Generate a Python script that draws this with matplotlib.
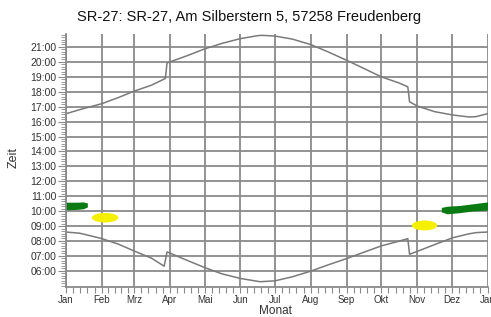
import matplotlib
matplotlib.use("Agg")
import matplotlib.pyplot as plt
from matplotlib.patches import Ellipse
from matplotlib.ticker import FixedLocator, MultipleLocator, FuncFormatter

plt.rcParams["font.family"] = ["Liberation Sans", "DejaVu Sans"]

# data (day of year, time in hours)
title = "SR-27: SR-27, Am Silberstern 5, 57258 Freudenberg"
month_labels = ["Jan", "Feb", "Mrz", "Apr", "Mai", "Jun", "Jul", "Aug", "Sep", "Okt", "Nov", "Dez", "Jan"]
month_starts = [0, 31, 59, 90, 120, 151, 181, 212, 243, 273, 304, 334, 365]

sunset_day = [0, 15, 31, 45, 59, 74, 86, 87.5, 105, 120, 135, 151, 166, 170, 181, 196, 212,
              227, 243, 258, 273, 288, 296, 297.5, 304, 319, 335, 349, 355, 365]
sunset_time = [16.53, 16.87, 17.2, 17.6, 18.04, 18.44, 18.89, 19.93, 20.42, 20.87, 21.24, 21.56,
               21.76, 21.78, 21.73, 21.53, 21.16, 20.67, 20.11, 19.56, 19.0, 18.6, 18.33, 17.33,
               17.05, 16.67, 16.44, 16.31, 16.33, 16.53]

sunrise_day = [0, 12, 31, 45, 59, 74, 85, 87.5, 105, 120, 135, 151, 168, 181, 196, 212,
               227, 243, 258, 273, 288, 296, 297.5, 304, 319, 335, 349, 355, 365]
sunrise_time = [8.6, 8.52, 8.16, 7.8, 7.33, 6.85, 6.31, 7.27, 6.7, 6.22, 5.8, 5.49, 5.27, 5.33,
                5.6, 5.98, 6.4, 6.82, 7.25, 7.67, 7.98, 8.16, 7.11, 7.3, 7.75, 8.22, 8.48, 8.56, 8.6]

green_left_day = [0, 5, 10, 15, 18.5]
green_left_lo = [10.1, 10.1, 10.12, 10.16, 10.28]
green_left_hi = [10.6, 10.6, 10.6, 10.62, 10.55]

green_right_day = [325, 330, 341, 353, 365]
green_right_lo = [9.95, 9.82, 9.9, 10.02, 10.07]
green_right_hi = [10.25, 10.33, 10.38, 10.5, 10.62]

yellow_day = [33.8, 310.5]
yellow_time = [9.56, 9.04]
yellow_w = [23, 22]
yellow_h = [0.64, 0.66]

fig = plt.figure(figsize=(4.91, 3.17), dpi=100)
ax = fig.add_axes([66 / 491, 1 - 286.5 / 317, 421.5 / 491, 252.5 / 317])

grid_c = "#8a8a8a"
ax.set_xlim(0, 365)
ax.set_ylim(4.95, 21.87)

ax.xaxis.set_major_locator(FixedLocator(month_starts))
minor_x = []
for a, b in zip(month_starts[:-1], month_starts[1:]):
    minor_x += [a + (b - a) * k / 5 for k in range(1, 5)]
ax.xaxis.set_minor_locator(FixedLocator(minor_x))
ax.set_xticklabels(month_labels)

ax.yaxis.set_major_locator(FixedLocator(list(range(6, 22))))
ax.yaxis.set_minor_locator(MultipleLocator(1 / 6))
ax.yaxis.set_major_formatter(FuncFormatter(lambda v, p: f"{int(round(v)):02d}:00"))

ax.grid(True, which="major", color=grid_c, linewidth=1.3)
ax.set_axisbelow(True)

for s in ["top", "right"]:
    ax.spines[s].set_visible(False)
for s in ["left", "bottom"]:
    ax.spines[s].set_color(grid_c)
    ax.spines[s].set_linewidth(1.3)

ax.tick_params(axis="y", which="major", length=6, width=0.8, color=grid_c, labelsize=7.5,
               labelcolor="#333333", pad=1)
ax.tick_params(axis="y", which="minor", length=3.5, width=0.6, color=grid_c)
ax.tick_params(axis="x", which="both", length=4, width=0.8, color=grid_c, labelsize=7,
               labelcolor="#333333", pad=2)

ax.plot(sunset_day, sunset_time, color="#7a7a7a", linewidth=1.1)
ax.plot(sunrise_day, sunrise_time, color="#7a7a7a", linewidth=1.1)

ax.fill_between(green_left_day, green_left_lo, green_left_hi, color="#0a7a12", linewidth=0)
ax.fill_between(green_right_day, green_right_lo, green_right_hi, color="#0a7a12", linewidth=0)

for d, t, w, h in zip(yellow_day, yellow_time, yellow_w, yellow_h):
    ax.add_patch(Ellipse((d, t), w, h, facecolor="#f5ef00", edgecolor="none"))

fig.text(249 / 491, 1 - 17 / 317, title, ha="center", va="center", fontsize=10.5, color="#111111")
fig.text(275 / 491, 1 - 311 / 317, "Monat", ha="center", va="center", fontsize=8.5, color="#333333")
fig.text(14 / 491, 1 - 158 / 317, "Zeit", ha="center", va="center", fontsize=9, rotation=90,
         color="#333333")

fig.savefig("out.png", dpi=100)
